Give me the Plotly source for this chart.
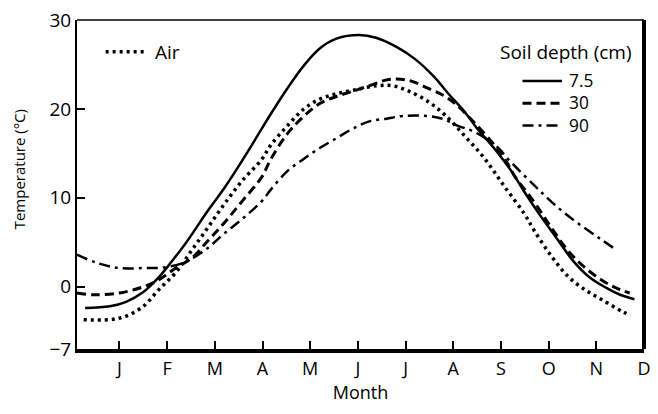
import plotly.graph_objects as go

# Month positions: J=1 ... D=12
month_ticks = [1, 2, 3, 4, 5, 6, 7, 8, 9, 10, 11, 12]
month_labels = ["J", "F", "M", "A", "M", "J", "J", "A", "S", "O", "N", "D"]
y_ticks = [-7, 0, 10, 20, 30]
y_tick_text = ["\u22127", "0", "10", "20", "30"]
soil_depth_labels = ["7.5", "30", "90"]

# Soil 7.5 cm (solid)
m_75 = [0.28, 0.8, 1.14, 1.5, 1.83, 2.03, 2.39, 2.86, 3.2, 3.48, 3.84, 4.17, 4.52, 4.87, 5.2, 5.55,
        6.03, 6.38, 6.8, 7.2, 7.6, 7.9, 8.25, 8.5, 8.87, 9.22, 9.5, 9.8, 10.15, 10.5, 10.85, 11.2, 11.5, 11.8]
t_75 = [-2.4, -2.2, -1.7, -0.6, 1.1, 2.4, 4.9, 8.6, 11.1, 13.4, 16.5, 19.4, 22.3, 24.9, 26.8, 27.9,
        28.3, 28.0, 27.0, 25.6, 23.6, 21.7, 19.6, 17.8, 15.5, 13.0, 10.6, 8.2, 5.6, 3.0, 1.1, -0.1, -0.9, -1.4]

# Soil 30 cm (dashed)
m_30 = [0.11, 0.46, 1.0, 1.5, 1.83, 2.18, 2.53, 2.86, 3.2, 3.57, 3.98, 4.17, 4.52, 4.87, 5.2, 5.55, 5.9,
        6.24, 6.65, 7.07, 7.48, 7.8, 8.04, 8.45, 8.87, 9.1, 9.28, 9.7, 10.05, 10.4, 10.75, 11.1, 11.4, 11.7]
t_30 = [-0.7, -0.9, -0.7, 0.0, 0.8, 2.1, 3.3, 5.2, 7.2, 9.6, 12.3, 14.3, 17.2, 19.2, 20.6, 21.4, 22.0,
        22.6, 23.3, 23.2, 22.3, 21.5, 20.6, 18.4, 15.9, 14.2, 12.5, 9.5, 6.7, 4.1, 2.2, 0.8, -0.1, -0.7]

# Soil 90 cm (dash-dot)
m_90 = [0.11, 0.52, 1.0, 1.5, 1.97, 2.39, 2.86, 3.2, 3.57, 3.98, 4.17, 4.52, 4.87, 5.2, 5.55, 5.9, 6.24,
        6.6, 6.94, 7.48, 7.77, 8.1, 8.45, 8.93, 9.14, 9.7, 10.05, 10.38, 10.73, 11.08, 11.35]
t_90 = [3.6, 2.7, 2.1, 2.1, 2.2, 2.8, 4.4, 6.0, 7.6, 9.6, 10.9, 13.0, 14.4, 15.6, 16.7, 17.8, 18.6,
        18.9, 19.2, 19.2, 18.9, 18.1, 17.4, 15.7, 14.4, 11.4, 9.6, 8.1, 6.7, 5.4, 4.4]

# Air (dotted)
m_air = [0.25, 0.8, 1.14, 1.5, 1.83, 2.18, 2.53, 2.86, 3.2, 3.57, 3.98, 4.17, 4.52, 4.87, 5.2, 5.55, 5.9,
         6.38, 6.73, 7.07, 7.48, 7.83, 8.25, 8.66, 9.07, 9.49, 9.7, 10.05, 10.4, 10.75, 11.1, 11.55, 11.72]
t_air = [-3.7, -3.7, -3.3, -2.2, -0.3, 1.6, 4.2, 6.7, 9.3, 11.9, 14.3, 15.9, 18.1, 20.0, 21.1, 21.7, 22.1,
         22.6, 22.6, 22.0, 20.8, 19.3, 16.9, 14.4, 11.3, 8.2, 6.3, 3.5, 1.2, -0.3, -1.4, -2.8, -3.2]

FONT = "Open Sans"
W, H = 658, 414
ML, MR, MT, MB = 77, 7, 17, 65
PW, PH = W - ML - MR, H - MT - MB

def px(x):
    return (x - ML) / PW

def py(y):
    return (H - MB - y) / PH

STYLE_AIR = dict(color="black", width=3.5, dash="3px,4px")
STYLE_75 = dict(color="black", width=2.5, dash="solid")
STYLE_30 = dict(color="black", width=3, dash="9px,5px")
STYLE_90 = dict(color="black", width=2.5, dash="11px,5px,3px,5px")

fig = go.Figure()
fig.add_trace(go.Scatter(x=m_air, y=t_air, mode="lines", name="Air",
                         line=dict(**STYLE_AIR, shape="spline")))
fig.add_trace(go.Scatter(x=m_75, y=t_75, mode="lines", name="7.5",
                         line=dict(**STYLE_75, shape="spline")))
fig.add_trace(go.Scatter(x=m_30, y=t_30, mode="lines", name="30",
                         line=dict(**STYLE_30, shape="spline")))
fig.add_trace(go.Scatter(x=m_90, y=t_90, mode="lines", name="90",
                         line=dict(**STYLE_90, shape="spline")))

LEG_FONT = 17.3
ROW = LEG_FONT * 1.3  # line spacing of multi-line text

# Legend keys (paper coordinates)
key_rows = [
    (STYLE_AIR, 106, 148, 49),
    (STYLE_75, 528, 568, 101 - ROW),
    (STYLE_30, 528, 568, 101),
    (STYLE_90, 528, 568, 101 + ROW),
]
shapes = [
    dict(type="line", xref="paper", yref="paper", x0=0, x1=1, y0=1, y1=1,
         line=dict(color="black", width=1.5)),
    dict(type="line", xref="paper", yref="paper", x0=1, x1=1, y0=0, y1=1,
         line=dict(color="black", width=4)),
]
for style, x0, x1, yy in key_rows:
    shapes.append(dict(type="line", xref="paper", yref="paper", x0=px(x0), x1=px(x1),
                       y0=py(yy), y1=py(yy), line=style))

annotations = [
    dict(text="Soil depth (cm)", xref="paper", yref="paper", x=px(503), y=py(49),
         xanchor="left", yanchor="middle", showarrow=False, font=dict(size=19)),
    dict(text="Air", xref="paper", yref="paper", x=px(154), y=py(49),
         xanchor="left", yanchor="middle", showarrow=False, font=dict(size=19)),
    dict(text="<br>".join(soil_depth_labels), xref="paper", yref="paper", x=px(573), y=py(101),
         xanchor="left", yanchor="middle", align="left", showarrow=False,
         font=dict(size=LEG_FONT)),
    dict(text="Temperature (°C)", xref="paper", yref="paper", x=px(18), y=py(168),
         xanchor="center", yanchor="middle", showarrow=False, textangle=-90,
         font=dict(size=15)),
]

fig.update_layout(
    width=W, height=H,
    margin=dict(l=ML, r=MR, t=MT, b=MB),
    paper_bgcolor="white", plot_bgcolor="white",
    font=dict(family=FONT, color="black", size=19),
    hovermode=False,
    showlegend=False,
    xaxis=dict(range=[0.11, 12], tickmode="array", tickvals=month_ticks, ticktext=month_labels,
               ticks="inside", ticklen=8, tickwidth=1.5, tickcolor="black",
               showline=True, linecolor="black", linewidth=4, mirror=False,
               showgrid=False, zeroline=False, tickfont=dict(size=18),
               title=dict(text="Month", font=dict(size=18), standoff=5)),
    yaxis=dict(range=[-7, 30], tickmode="array", tickvals=y_ticks, ticktext=y_tick_text,
               ticks="inside", ticklen=8, tickwidth=1.5, tickcolor="black",
               showline=True, linecolor="black", linewidth=2, mirror=False,
               showgrid=False, zeroline=False, tickfont=dict(size=19)),
    shapes=shapes,
    annotations=annotations,
)

fig.write_html("out.html")
